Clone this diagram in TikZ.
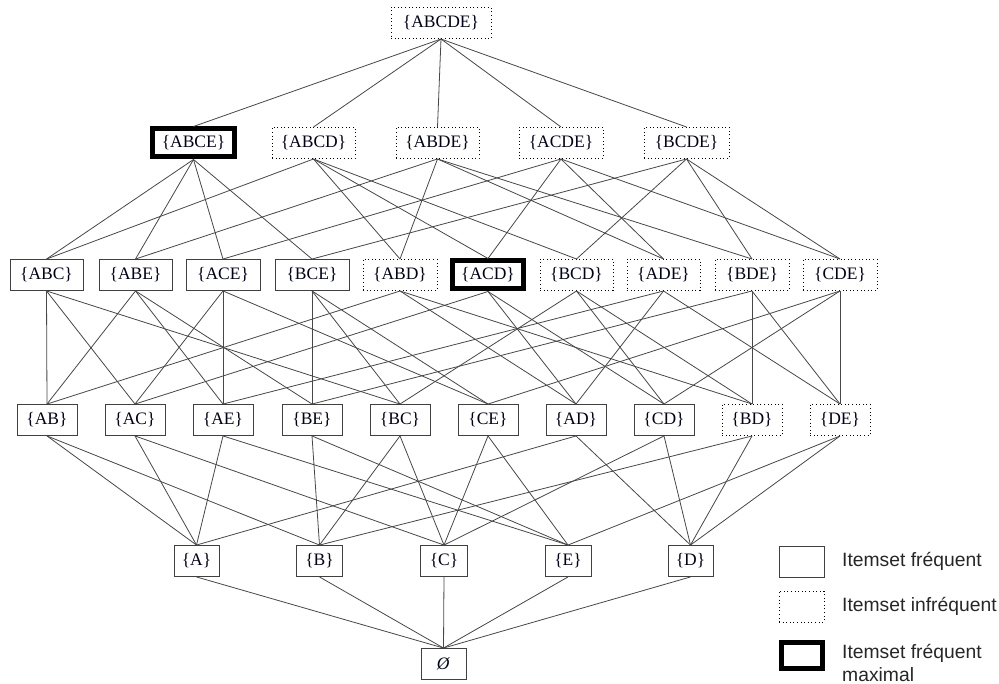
\documentclass[tikz,border=0pt]{standalone}
\usepackage{fontspec}
\setmainfont{Liberation Serif}
\newfontfamily\legendfont{Liberation Sans}
\begin{document}
\begin{tikzpicture}[x=1pt,y=-1pt]
\tikzset{
 base/.style={rectangle, minimum height=31pt, inner sep=0pt, font=\fontsize{17.5}{19}\selectfont, text=black!90!blue, fill=white},
 freq/.style={base, draw=black!75, line width=0.9pt},
 infreq/.style={base, draw=black, line width=1pt, dash pattern=on 1pt off 2.6pt},
 maxfreq/.style={base, draw=black, line width=5pt, minimum height=28pt},
 edge/.style={draw=black!72, line width=0.8pt},
 legtext/.style={anchor=west, inner sep=0pt, font=\legendfont\fontsize{19.3}{23}\selectfont, text=black!85, align=left}
}
\useasboundingbox (0,0) rectangle (999,684);
% top
\node[infreq, minimum width=100pt] (ABCDE) at (441,23) {\{ABCDE\}};
% level 1
\node[maxfreq, minimum width=82pt] (ABCE) at (193.5,143) {\{ABCE\}};
\node[infreq, minimum width=83pt] (ABCD) at (313.5,143) {\{ABCD\}};
\node[infreq, minimum width=83pt] (ABDE) at (437.5,143) {\{ABDE\}};
\node[infreq, minimum width=84pt] (ACDE) at (561,143) {\{ACDE\}};
\node[infreq, minimum width=85pt] (BCDE) at (686.5,143) {\{BCDE\}};
% level 2
\node[freq, minimum width=73pt] (ABC) at (46.5,275) {\{ABC\}};
\node[freq, minimum width=73pt] (ABE) at (135.5,275) {\{ABE\}};
\node[freq, minimum width=74pt] (ACE) at (223,275) {\{ACE\}};
\node[freq, minimum width=74pt] (BCE) at (312,275) {\{BCE\}};
\node[infreq, minimum width=74pt] (ABD) at (400,275) {\{ABD\}};
\node[maxfreq, minimum width=71pt] (ACD) at (488,275) {\{ACD\}};
\node[infreq, minimum width=73pt] (BCD) at (576.5,275) {\{BCD\}};
\node[infreq, minimum width=73pt] (ADE) at (663.5,275) {\{ADE\}};
\node[infreq, minimum width=74pt] (BDE) at (752,275) {\{BDE\}};
\node[infreq, minimum width=74pt] (CDE) at (840,275) {\{CDE\}};
% level 3
\node[freq, minimum width=60pt] (AB) at (47,420) {\{AB\}};
\node[freq, minimum width=60pt] (AC) at (135,420) {\{AC\}};
\node[freq, minimum width=60pt] (AE) at (223,420) {\{AE\}};
\node[freq, minimum width=60pt] (BE) at (312,420) {\{BE\}};
\node[freq, minimum width=60pt] (BC) at (400,420) {\{BC\}};
\node[freq, minimum width=60pt] (CE) at (488,420) {\{CE\}};
\node[freq, minimum width=60pt] (AD) at (576,420) {\{AD\}};
\node[freq, minimum width=60pt] (CD) at (664,420) {\{CD\}};
\node[infreq, minimum width=60pt] (BD) at (752,420) {\{BD\}};
\node[infreq, minimum width=60pt] (DE) at (840,420) {\{DE\}};
% level 4
\node[freq, minimum width=45pt] (A) at (196.5,561) {\{A\}};
\node[freq, minimum width=46pt] (B) at (319.5,561) {\{B\}};
\node[freq, minimum width=47pt] (C) at (444,561) {\{C\}};
\node[freq, minimum width=46pt] (E) at (568,561) {\{E\}};
\node[freq, minimum width=45pt] (D) at (690.5,561) {\{D\}};
% bottom
\node[freq, minimum width=45pt] (empty) at (443.5,664) {\textit{Ø}};
% edges
\foreach \p in {ABCE,ABCD,ABDE,ACDE,BCDE}
  \draw[edge] (ABCDE.south) -- (\p.north);
\foreach \p/\c in {ABCE/ABC,ABCE/ABE,ABCE/ACE,ABCE/BCE,
  ABCD/ABC,ABCD/ABD,ABCD/ACD,ABCD/BCD,
  ABDE/ABD,ABDE/ABE,ABDE/ADE,ABDE/BDE,
  ACDE/ACD,ACDE/ACE,ACDE/ADE,ACDE/CDE,
  BCDE/BCD,BCDE/BCE,BCDE/BDE,BCDE/CDE}
  \draw[edge] (\p.south) -- (\c.north);
\foreach \p/\c in {ABC/AB,ABC/AC,ABC/BC,ABE/AB,ABE/AE,ABE/BE,
  ACE/AC,ACE/AE,ACE/CE,BCE/BC,BCE/BE,BCE/CE,
  ABD/AB,ABD/AD,ABD/BD,ACD/AC,ACD/AD,ACD/CD,
  BCD/BC,BCD/BD,BCD/CD,ADE/AD,ADE/AE,ADE/DE,
  BDE/BD,BDE/BE,BDE/DE,CDE/CD,CDE/CE,CDE/DE}
  \draw[edge] (\p.south) -- (\c.north);
\foreach \p/\c in {AB/A,AB/B,AC/A,AC/C,AE/A,AE/E,BE/B,BE/E,BC/B,BC/C,
  CE/C,CE/E,AD/A,AD/D,CD/C,CD/D,BD/B,BD/D,DE/D,DE/E}
  \draw[edge] (\p.south) -- (\c.north);
\foreach \p in {A,B,C,E,D}
  \draw[edge] (\p.south) -- (empty.north);
% legend
\node[freq, minimum width=45pt] (L1) at (801.5,561.5) {};
\node[infreq, minimum width=45pt] (L2) at (801.5,606.5) {};
\node[maxfreq, minimum width=41pt, minimum height=26pt] (L3) at (801.5,655) {};
\node[legtext] (T1) at (842,561) {Itemset fréquent};
\node[legtext] (T2) at (842,606) {Itemset infréquent};
\node[legtext] (T3) at (842,663) {Itemset fréquent\\maximal};
\end{tikzpicture}
\end{document}
